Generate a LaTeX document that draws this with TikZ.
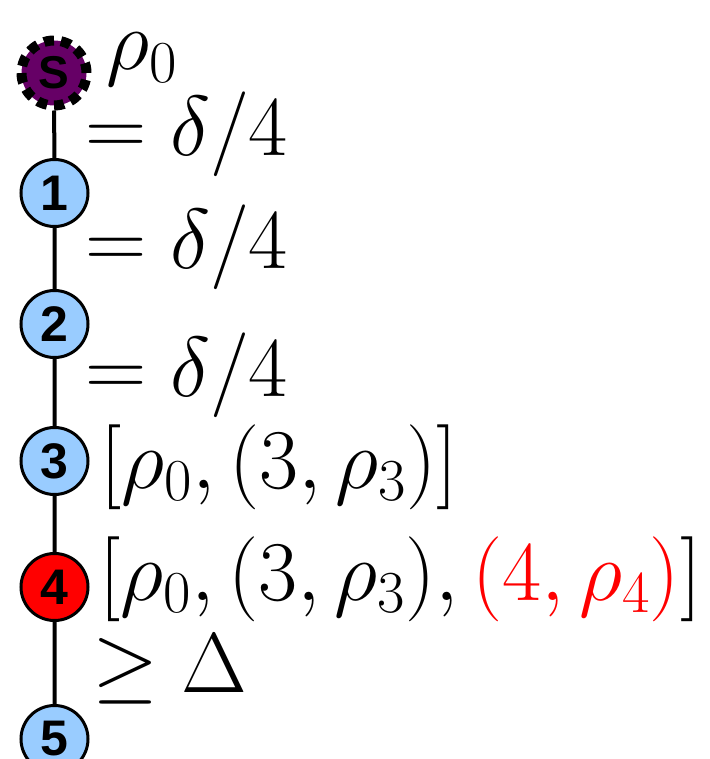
\RequirePackage{fix-cm}
\documentclass[tikz,border=0pt]{standalone}
\usepackage{fontspec}
\newfontfamily\labfont{Liberation Sans}
\usetikzlibrary{backgrounds}
\definecolor{nodeblue}{RGB}{153,204,255}
\definecolor{nodepurple}{RGB}{102,0,102}
\definecolor{nodered}{RGB}{255,0,0}
\begin{document}
\begin{tikzpicture}[x=1pt,y=-1pt,
  circ/.style={circle,draw=black,line width=3pt,minimum size=67pt,inner sep=0pt,
    font=\labfont\bfseries\fontsize{50}{50}\selectfont},
  bluec/.style={circ,fill=nodeblue},
  redc/.style={circ,fill=nodered},
  startc/.style={circle,draw=black,line width=10pt,minimum size=65pt,inner sep=0pt,
    dash pattern=on 10pt off 7.02pt,fill=nodepurple,
    font=\labfont\bfseries\fontsize{46}{46}\selectfont},
  lbl/.style={anchor=base west,inner sep=0pt,font=\fontsize{85}{100}\selectfont},
  conn/.style={draw=black,line width=4pt}]
\useasboundingbox (0,0) rectangle (709,759);
\node[startc] (s) at (54,73) {S};
\node[bluec] (n1) at (54.5,193) {1};
\node[bluec] (n2) at (54.5,324) {2};
\node[bluec] (n3) at (54.5,461) {3};
\node[redc] (n4) at (54.5,587) {4};
\node[bluec] (n5) at (54.5,739) {5};
\begin{scope}[on background layer]
\draw[conn] (s) -- (n1) -- (n2) -- (n3) -- (n4) -- (n5);
\end{scope}
\node[lbl] (t0) at (106,70) {$\rho_0$};
\node[lbl] (t1) at (85,156) {$=\delta/4$};
\node[lbl] (t2) at (85,268) {$=\delta/4$};
\node[lbl] (t3) at (85,396) {$=\delta/4$};
\node[lbl] (t4) at (100,488) {$[\rho_0,(3,\rho_3)]$};
\node[lbl] (t5) at (99,600) {$[\rho_0,(3,\rho_3),{\color{nodered}(4,\rho_4)}]$};
\node[lbl] (t6) at (92,692) {$\geq\Delta$};
\end{tikzpicture}
\end{document}
